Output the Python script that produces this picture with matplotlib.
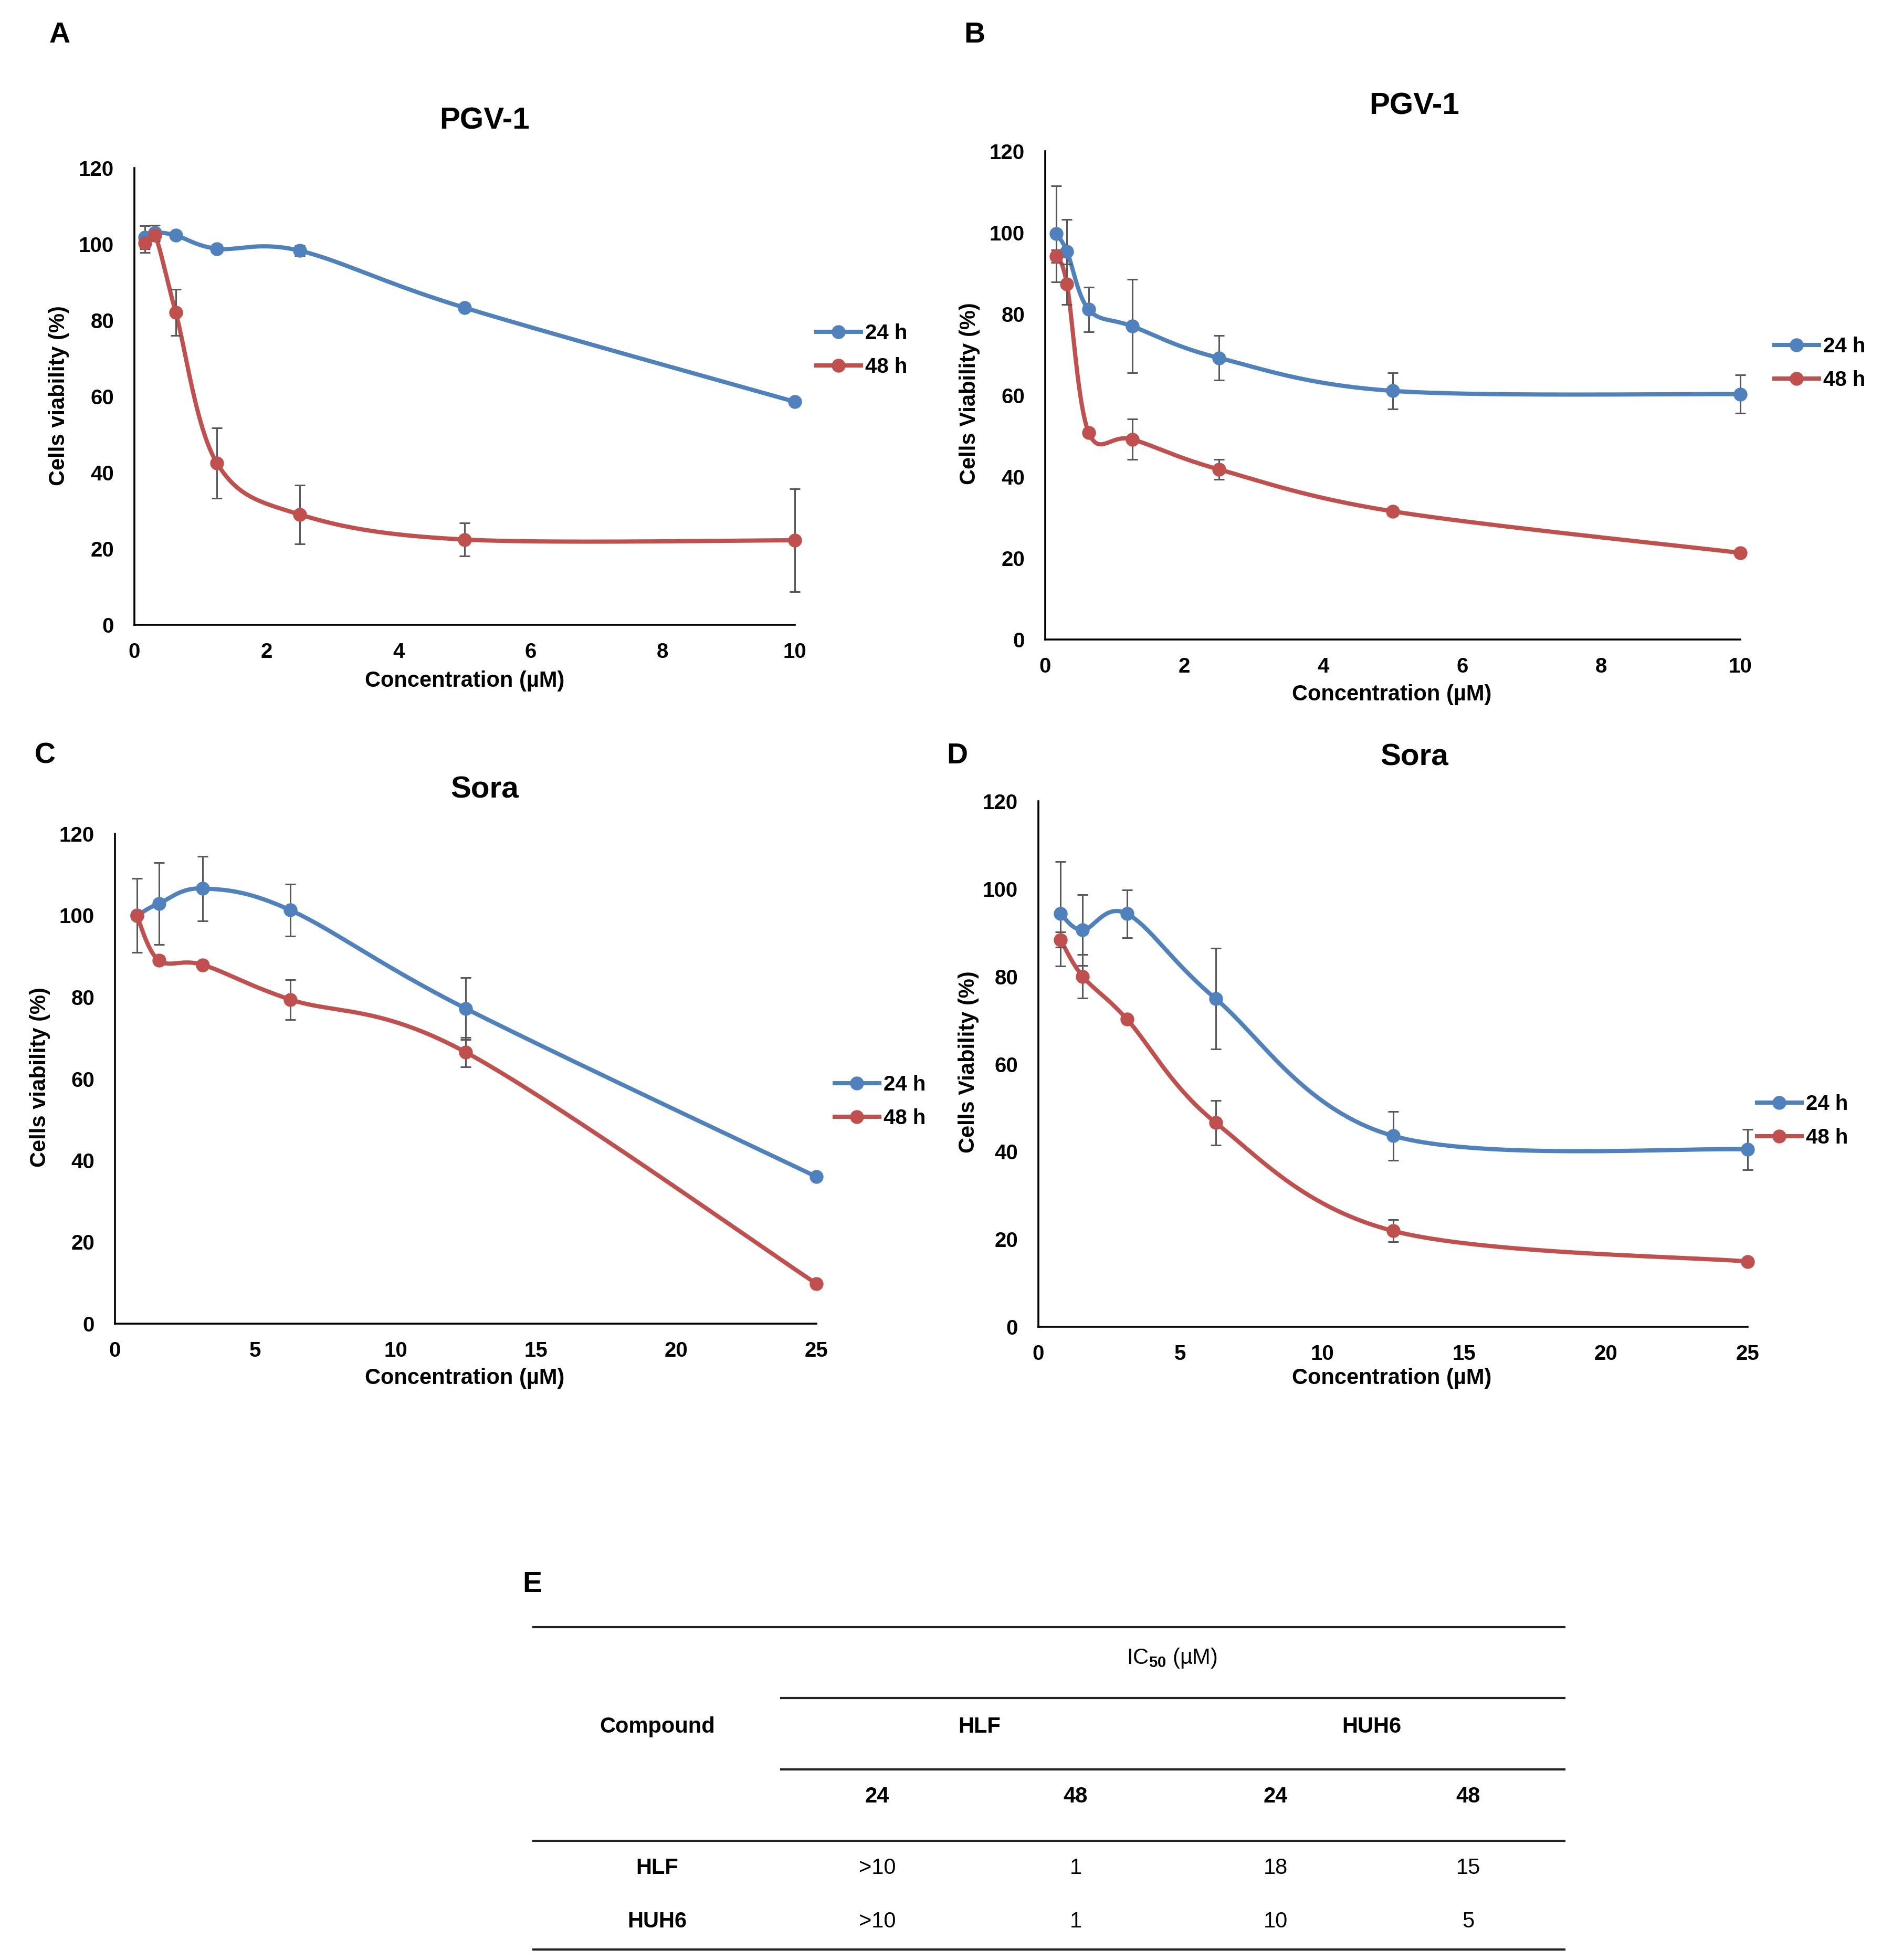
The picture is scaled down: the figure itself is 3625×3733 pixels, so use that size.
import numpy as np
import matplotlib
matplotlib.use("Agg")
import matplotlib.pyplot as plt
from matplotlib.lines import Line2D

plt.rcParams["font.family"] = ["Liberation Sans", "DejaVu Sans"]
plt.rcParams["font.weight"] = "bold"
plt.rcParams["mathtext.fontset"] = "custom"
plt.rcParams["mathtext.rm"] = "Liberation Sans"

BLUE = "#4F81BD"
RED = "#C0504D"
ERR = "#595959"

# ---- data ----
pgv_conc = [0.156, 0.3125, 0.625, 1.25, 2.5, 5, 10]
sora_conc = [0.78, 1.5625, 3.125, 6.25, 12.5, 25]

a_24 = [101.8, 103.0, 102.3, 98.8, 98.3, 83.3, 58.6]
a_24_err = [3.0, 2.0, 0.6, 1.0, 1.3, 0.8, 0.6]
a_48 = [100.3, 102.3, 82.1, 42.5, 29.0, 22.4, 22.2]
a_48_err = [2.5, 1.5, 6.1, 9.2, 7.7, 4.3, 13.5]

b_24 = [99.7, 95.4, 81.1, 77.0, 69.2, 61.1, 60.3]
b_24_err = [11.8, 7.8, 5.5, 11.5, 5.5, 4.5, 4.7]
b_48 = [94.2, 87.3, 50.9, 49.2, 41.8, 31.5, 21.3]
b_48_err = [1.5, 5.0, 1.0, 5.0, 2.5, 1.0, 0.5]

c_24 = [100.0, 102.9, 106.6, 101.3, 77.2, 36.0]
c_24_err = [9.1, 10.0, 7.9, 6.4, 7.6, 0.5]
c_48 = [99.9, 89.0, 87.9, 79.4, 66.5, 9.8]
c_48_err = [0.5, 1.0, 0.5, 4.9, 3.6, 0.5]

d_24 = [94.3, 90.6, 94.3, 74.9, 43.6, 40.5]
d_24_err = [11.9, 8.1, 5.5, 11.5, 5.6, 4.6]
d_48 = [88.4, 80.0, 70.2, 46.6, 21.9, 14.9]
d_48_err = [1.7, 5.0, 0.5, 5.1, 2.5, 0.8]

series_labels = ["24 h", "48 h"]

# IC50 table
time_cols = ["24", "48", "24", "48"]
cell_groups = ["HLF", "HUH6"]
compounds = ["HLF", "HUH6"]
ic50_hlf = [">10", "1", "18", "15"]
ic50_huh6 = [">10", "1", "10", "5"]

W, H = 3625, 3733
fig = plt.figure(figsize=(W / 100, H / 100), dpi=100)


def px_axes(left, top, right, bottom):
    return fig.add_axes([left / W, 1 - bottom / H, (right - left) / W, (bottom - top) / H])


def smooth(ax, x, y, n=40):
    # Excel-like smoothed line: Catmull-Rom through the points in display space
    pts = ax.transData.transform(np.column_stack([x, y]))
    P = np.vstack([pts[0], pts, pts[-1]])
    segs = []
    t = np.linspace(0, 1, n)[:, None]
    for i in range(1, len(P) - 2):
        p0, p1, p2, p3 = P[i - 1], P[i], P[i + 1], P[i + 2]
        c1 = p1 + (p2 - p0) / 6
        c2 = p2 - (p3 - p1) / 6
        segs.append((1 - t) ** 3 * p1 + 3 * (1 - t) ** 2 * t * c1
                    + 3 * (1 - t) * t ** 2 * c2 + t ** 3 * p2)
    curve = ax.transData.inverted().transform(np.vstack(segs))
    return curve[:, 0], curve[:, 1]


def panel(box, x, series, xmax, xstep, legend_at):
    ax = px_axes(*box)
    ax.set_xlim(0, xmax)
    ax.set_ylim(0, 120)
    ax.set_xticks(np.arange(0, xmax + 0.1, xstep))
    ax.set_yticks(np.arange(0, 121, 20))
    for s in ["top", "right"]:
        ax.spines[s].set_visible(False)
    for s in ["left", "bottom"]:
        ax.spines[s].set_linewidth(2.6)
    ax.tick_params(length=0, labelsize=29)
    ax.tick_params(axis="y", pad=28)
    ax.tick_params(axis="x", pad=24)
    for lab in ax.get_xticklabels() + ax.get_yticklabels():
        lab.set_fontweight("bold")

    for (y, err), color in zip(series, [BLUE, RED]):
        cx, cy = smooth(ax, x, y)
        ax.plot(cx, cy, color=color, lw=5.8, clip_on=False, zorder=2)
        ax.errorbar(x, y, yerr=err, fmt="none", ecolor=ERR, elinewidth=2.2,
                    capsize=7, capthick=2.2, zorder=3, clip_on=False)
        ax.plot(x, y, "o", color=color, ms=18, clip_on=False, zorder=4)

    handles = [Line2D([], [], color=c, lw=5.8, marker="o", ms=18) for c in [BLUE, RED]]
    ax.legend(handles, series_labels, loc="center left",
              bbox_to_anchor=(legend_at[0] / W, 1 - legend_at[1] / H),
              bbox_transform=fig.transFigure, frameon=False, borderpad=0,
              borderaxespad=0, handlelength=2.1, handletextpad=0.2,
              labelspacing=0.65, numpoints=1,
              prop={"size": 29, "weight": "bold"})
    return ax


panel((256, 320, 1514, 1190), pgv_conc,
      [(a_24, a_24_err), (a_48, a_48_err)], 10, 2, (1555, 667))
panel((1991, 288, 3315, 1218), pgv_conc,
      [(b_24, b_24_err), (b_48, b_48_err)], 10, 2, (3380, 692))
panel((219, 1588, 1555, 2521), sora_conc,
      [(c_24, c_24_err), (c_48, c_48_err)], 25, 5, (1590, 2098))
panel((1978, 1526, 3329, 2527), sora_conc,
      [(d_24, d_24_err), (d_48, d_48_err)], 25, 5, (3347, 2135))

# overlay in pixel coordinates for titles, labels and the table
ov = fig.add_axes([0, 0, 1, 1], zorder=-1)
ov.set_xlim(0, W)
ov.set_ylim(H, 0)
ov.axis("off")

for letter, (lx, ly) in zip("ABCDE", [(114, 67), (1856, 67), (86, 1440), (1823, 1440), (1014, 3018)]):
    ov.text(lx, ly, letter, fontsize=40, ha="center", va="center")

titles = ["PGV-1", "PGV-1", "Sora", "Sora"]
for t, (tx, ty) in zip(titles, [(923, 231), (2694, 202), (923, 1504), (2694, 1442)]):
    ov.text(tx, ty, t, fontsize=42, ha="center", va="center")

for (xx, yy) in [(885, 1297), (2651, 1323), (885, 2625), (2651, 2625)]:
    ov.text(xx, yy, "Concentration (µM)", fontsize=30, ha="center", va="center")

ylabels = ["Cells viability (%)", "Cells Viability (%)", "Cells viability (%)", "Cells Viability (%)"]
for t, (xx, yy) in zip(ylabels, [(112, 754), (1847, 750), (76, 2052), (1845, 2023)]):
    ov.text(xx, yy, t, fontsize=30, ha="center", va="center", rotation=90)

# table E
rules = [(3099, 1016), (3234, 1488), (3370, 1488), (3506, 1016), (3713, 1016)]
for ry, rx0 in rules:
    ov.plot([rx0, 2980], [ry, ry], color="#222222", lw=3)

ov.text(2232, 3158, r"IC$_{\mathrm{50}}$ (µM)", fontsize=30, fontweight="normal",
        ha="center", va="center")
ov.text(1252, 3289, "Compound", fontsize=30, ha="center", va="center")
for g, gx in zip(cell_groups, [1866, 2613]):
    ov.text(gx, 3289, g, fontsize=30, ha="center", va="center")
col_x = [1671, 2049, 2430, 2797]
for c, cx in zip(time_cols, col_x):
    ov.text(cx, 3422, c, fontsize=30, ha="center", va="center")
for name, vals, ry in zip(compounds, [ic50_hlf, ic50_huh6], [3558, 3660]):
    ov.text(1252, ry, name, fontsize=30, ha="center", va="center")
    for v, cx in zip(vals, col_x):
        ov.text(cx, ry, v, fontsize=30, fontweight="normal", ha="center", va="center")

fig.savefig("out.png", dpi=100, facecolor="white")
